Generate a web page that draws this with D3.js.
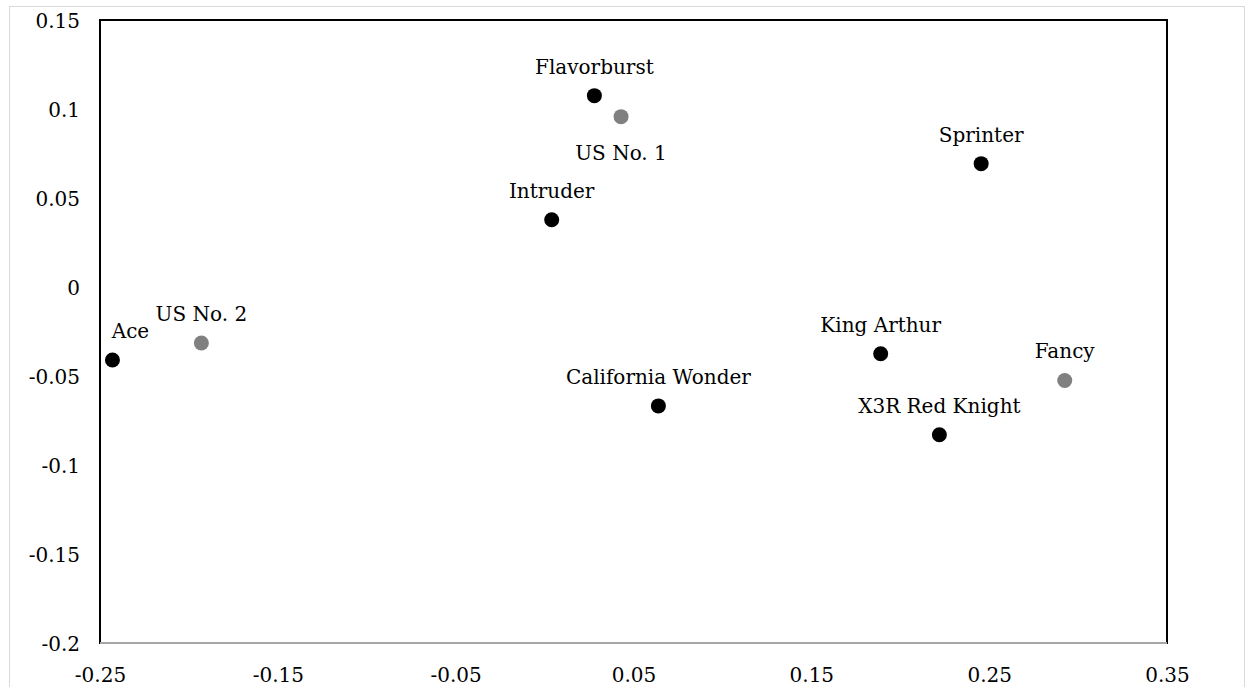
<!DOCTYPE html>
<html>
<head>
<meta charset="utf-8">
<script src="https://cdn.jsdelivr.net/npm/d3@7"></script>
<style>
  body { margin: 0; background: #fff; }
</style>
</head>
<body>
<svg id="chart" width="1246" height="687"></svg>
<script>
// Variety names, in drawing order.
let varieties = ['Ace', 'US No. 2', 'Flavorburst', 'US No. 1', 'Intruder', 'Sprinter',
    'California Wonder', 'King Arthur', 'Fancy', 'X3R Red Knight'];
// Coordinates.
let xValues = [-0.243, -0.193, 0.028, 0.043, 0.004, 0.2455, 0.064, 0.189, 0.2925, 0.222];
let yValues = [-0.041, -0.0315, 0.1075, 0.0957, 0.0378, 0.0693, -0.0668, -0.0375, -0.0525, -0.083];
// Grey points are the grade standards, black ones the varieties.
let isStandard = [false, true, false, true, false, false, false, false, true, false];

let xTicks = [-0.25, -0.15, -0.05, 0.05, 0.15, 0.25, 0.35];
let yTicks = [0.15, 0.1, 0.05, 0, -0.05, -0.1, -0.15, -0.2];

const serif = '"DejaVu Serif", serif';
const fontSize = 20;

// label nudges (dx, dy from point centre to baseline)
let labelNudge = new Map([
    ['Ace', [18, -22]],
    ['US No. 1', [0, 43]]
]);

let plot = {left: 100, top: 20, right: 1167, bottom: 643};

let svg = d3.select('#chart');

// outer chart border
svg.append('rect')
    .attr('x', 9.5).attr('y', 6.5)
    .attr('width', 1235).attr('height', 700)
    .attr('fill', '#fff')
    .attr('stroke', '#d9d9d9')
    .attr('stroke-width', 1);

let x = d3.scaleLinear().domain([-0.25, 0.35]).range([plot.left, plot.right]);
let y = d3.scaleLinear().domain([-0.2, 0.15]).range([plot.bottom, plot.top]);

let data = varieties.map((name, i) => ({name: name, x: xValues[i], y: yValues[i], std: isStandard[i]}));

// plain hyphen minus, like the original
const fmt = d => String(+d.toFixed(2));

// plot area border
svg.append('rect')
    .attr('x', plot.left).attr('y', plot.top)
    .attr('width', plot.right - plot.left).attr('height', plot.bottom - plot.top)
    .attr('fill', 'none')
    .attr('stroke', '#000')
    .attr('stroke-width', 2);

// x axis line (grey)
svg.append('line')
    .attr('x1', plot.left).attr('x2', plot.right)
    .attr('y1', y(-0.2)).attr('y2', y(-0.2))
    .attr('stroke', '#a6a6a6')
    .attr('stroke-width', 2);

// x axis labels
let xAxis = d3.axisBottom(x).tickValues(xTicks).tickSize(0).tickPadding(0).tickFormat(fmt);
let gx = svg.append('g')
    .attr('transform', 'translate(0,' + (plot.bottom + 39) + ')')
    .call(xAxis)
    .attr('font-family', serif)
    .attr('font-size', fontSize);
gx.select('.domain').remove();
gx.selectAll('text')
    .attr('dy', null).attr('y', 0)
    .attr('fill', '#000');

// y axis labels
let yAxis = d3.axisLeft(y).tickValues(yTicks).tickSize(0).tickPadding(0).tickFormat(fmt);
let gy = svg.append('g')
    .attr('transform', 'translate(80,0)')
    .call(yAxis)
    .attr('font-family', serif)
    .attr('font-size', fontSize);
gy.select('.domain').remove();
gy.selectAll('text')
    .attr('dy', '0.35em')
    .attr('fill', '#000');

// points
svg.selectAll('.dot')
    .data(data)
    .enter().append('circle')
    .attr('class', 'dot')
    .attr('r', 7.5)
    .attr('cx', d => x(d.x))
    .attr('cy', d => y(d.y))
    .attr('fill', d => d.std ? '#808080' : '#000');

// data labels
svg.selectAll('.label')
    .data(data)
    .enter().append('text')
    .attr('class', 'label')
    .attr('text-anchor', 'middle')
    .attr('font-family', serif)
    .attr('font-size', fontSize)
    .attr('fill', '#000')
    .attr('x', d => x(d.x) + (labelNudge.has(d.name) ? labelNudge.get(d.name)[0] : 0))
    .attr('y', d => y(d.y) + (labelNudge.has(d.name) ? labelNudge.get(d.name)[1] : -22))
    .text(d => d.name);
</script>
</body>
</html>
